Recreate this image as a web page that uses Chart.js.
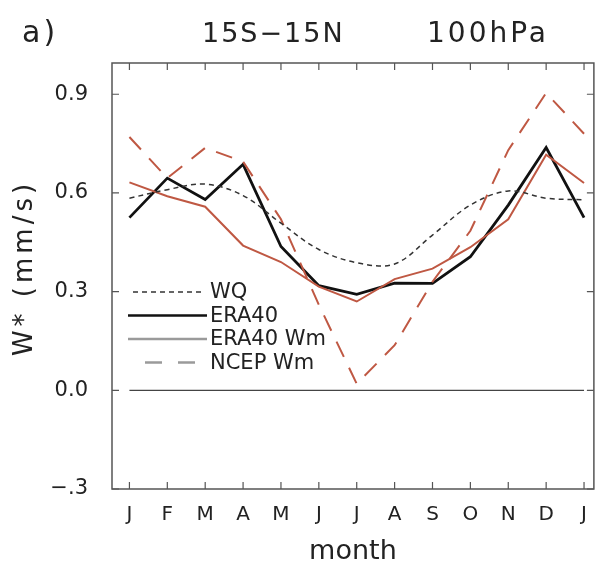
<!DOCTYPE html>
<html>
<head>
<meta charset="utf-8">
<script src="https://cdn.jsdelivr.net/npm/chart.js@4"></script>
<style>
html, body { margin: 0; padding: 0; background: #fff; }
</style>
</head>
<body>
<canvas id="wstarChart" width="601" height="568"></canvas>
<script>
// monthly cycle, J..D then J again
const months = ['J', 'F', 'M', 'A', 'M', 'J', 'J', 'A', 'S', 'O', 'N', 'D', 'J'];
const yTickValues = [-0.3, 0.0, 0.3, 0.6, 0.9];
const yTickLabels = ['\u2212.3', '0.0', '0.3', '0.6', '0.9'];

const wq       = [0.584, 0.61, 0.627, 0.592, 0.508, 0.428, 0.388, 0.384, 0.472, 0.563, 0.606, 0.584, 0.579];
const era40    = [0.525, 0.645, 0.58, 0.687, 0.437, 0.318, 0.292, 0.326, 0.325, 0.406, 0.563, 0.738, 0.525];
const era40Wm  = [0.632, 0.59, 0.558, 0.44, 0.39, 0.315, 0.27, 0.338, 0.37, 0.435, 0.52, 0.716, 0.63];
const ncepWm   = [0.77, 0.645, 0.737, 0.695, 0.52, 0.26, 0.02, 0.137, 0.33, 0.485, 0.73, 0.904, 0.78];
const zeroLine = [0, 0, 0, 0, 0, 0, 0, 0, 0, 0, 0, 0, 0];

const legendItems = [
    { label: 'WQ', color: '#333', width: 1.5, dash: [5, 4], x0: 133, x1: 203 },
    { label: 'ERA40', color: '#111', width: 2.5, dash: [], x0: 128, x1: 207 },
    { label: 'ERA40 Wm', color: '#9a9a9a', width: 2.5, dash: [], x0: 128, x1: 207 },
    { label: 'NCEP Wm', color: '#9a9a9a', width: 2.5, dash: [17, 16], x0: 145, x1: 198 }
];

const RED = '#bf5843';
const FONT = '"DejaVu Sans", sans-serif';

function toPoints(arr) {
    return arr.map((v, i) => ({ x: i, y: v }));
}

const framePlugin = {
    id: 'frame',
    afterDraw(chart) {
        const ctx = chart.ctx;
        const a = chart.chartArea;
        const xs = chart.scales.x;
        const ys = chart.scales.y;
        ctx.save();

        // box
        ctx.strokeStyle = '#555';
        ctx.lineWidth = 1.5;
        ctx.strokeRect(a.left, a.top, a.right - a.left, a.bottom - a.top);

        // inward ticks on all sides
        ctx.lineWidth = 1.2;
        ctx.beginPath();
        months.forEach((m, i) => {
            const px = xs.getPixelForValue(i);
            ctx.moveTo(px, a.bottom); ctx.lineTo(px, a.bottom - 7);
            ctx.moveTo(px, a.top); ctx.lineTo(px, a.top + 7);
        });
        yTickValues.forEach(v => {
            const py = ys.getPixelForValue(v);
            ctx.moveTo(a.left, py); ctx.lineTo(a.left + 7, py);
            ctx.moveTo(a.right, py); ctx.lineTo(a.right - 7, py);
        });
        ctx.stroke();

        // panel label and title
        ctx.fillStyle = '#222';
        ctx.textBaseline = 'alphabetic';
        ctx.textAlign = 'left';
        ctx.letterSpacing = '3px';
        ctx.font = '30px ' + FONT;
        ctx.fillText('a)', 22, 42);
        ctx.letterSpacing = '2px';
        ctx.font = '27px ' + FONT;
        ctx.fillText('15S\u221215N', 202, 42);
        ctx.letterSpacing = '3px';
        ctx.font = '28px ' + FONT;
        ctx.textAlign = 'right';
        ctx.fillText('100hPa', 549, 42);

        // y axis title
        ctx.save();
        ctx.translate(25, 268);
        ctx.rotate(-Math.PI / 2);
        ctx.textAlign = 'center';
        ctx.textBaseline = 'middle';
        ctx.letterSpacing = '4px';
        ctx.font = '26px ' + FONT;
        ctx.fillText('W* (mm/s)', 0, 0);
        ctx.restore();

        // legend inside plot
        ctx.letterSpacing = '0px';
        ctx.font = '21px ' + FONT;
        ctx.textBaseline = 'middle';
        ctx.textAlign = 'left';
        const rowY0 = 292;
        legendItems.forEach((it, k) => {
            const y = rowY0 + k * 23.5;
            ctx.strokeStyle = it.color;
            ctx.lineWidth = it.width;
            ctx.setLineDash(it.dash);
            ctx.beginPath();
            ctx.moveTo(it.x0, y);
            ctx.lineTo(it.x1, y);
            ctx.stroke();
            ctx.setLineDash([]);
            ctx.fillStyle = '#222';
            ctx.fillText(it.label, 210, y + 1);
        });
        ctx.restore();
    }
};

new Chart(document.getElementById('wstarChart').getContext('2d'), {
    type: 'line',
    data: {
        datasets: [
            { data: toPoints(zeroLine), borderColor: '#444', borderWidth: 1.2 },
            { data: toPoints(wq), borderColor: '#333', borderWidth: 1.5, borderDash: [5, 4], tension: 0.35 },
            { data: toPoints(ncepWm), borderColor: RED, borderWidth: 2, borderDash: [17, 12] },
            { data: toPoints(era40Wm), borderColor: RED, borderWidth: 2 },
            { data: toPoints(era40), borderColor: '#111', borderWidth: 2.8 }
        ]
    },
    options: {
        responsive: false,
        animation: false,
        layout: { padding: { top: 63, right: 1, left: 0, bottom: 0 } },
        elements: { point: { radius: 0 }, line: { fill: false } },
        scales: {
            x: {
                type: 'linear',
                min: -0.46,
                max: 12.26,
                afterBuildTicks: s => { s.ticks = months.map((m, i) => ({ value: i })); },
                afterFit: s => { s.height = 79; },
                grid: { display: false, drawTicks: false },
                border: { display: false },
                ticks: {
                    autoSkip: false,
                    maxRotation: 0,
                    padding: 14,
                    color: '#222',
                    font: { family: FONT, size: 20 },
                    callback: (v, i) => months[i]
                },
                title: {
                    display: true,
                    text: 'month',
                    color: '#222',
                    font: { family: FONT, size: 27 },
                    padding: { top: 0, bottom: 0 }
                }
            },
            y: {
                min: -0.3,
                max: 0.995,
                afterBuildTicks: s => { s.ticks = yTickValues.map(v => ({ value: v })); },
                afterFit: s => { s.width = 112; },
                grid: { display: false, drawTicks: false },
                border: { display: false },
                ticks: {
                    padding: 24,
                    color: '#222',
                    font: { family: FONT, size: 21 },
                    callback: (v, i) => yTickLabels[i]
                }
            }
        },
        plugins: {
            legend: { display: false },
            tooltip: { enabled: false }
        }
    },
    plugins: [framePlugin]
});
</script>
</body>
</html>
